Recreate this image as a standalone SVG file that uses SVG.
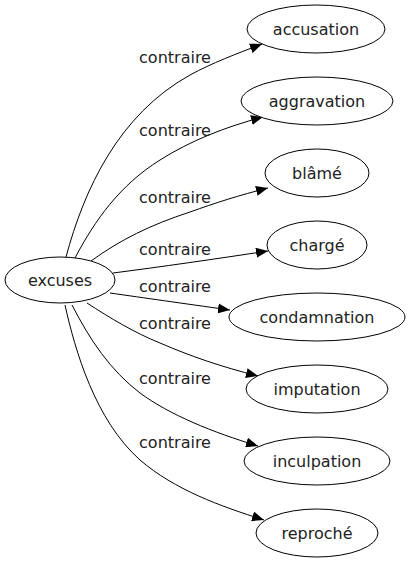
<svg xmlns="http://www.w3.org/2000/svg" width="410" height="563" viewBox="0 0 410 563">
<style>
.n ellipse{fill:#fff;stroke:#000;stroke-width:1}
text{font-family:"DejaVu Sans",sans-serif;font-size:16px;fill:#222;text-anchor:middle}
.e path{fill:none;stroke:#000;stroke-width:1;marker-end:url(#ah)}
</style>
<defs>
<marker id="ah" markerUnits="userSpaceOnUse" markerWidth="12" markerHeight="10" refX="12" refY="5" orient="auto"><path d="M0,0 L12,5 L0,10 Z" fill="#000"/></marker>
</defs>
<rect width="410" height="563" fill="#fff"/>
<g class="e" id="edges">
<path d="M66,257 C84,190 118,115 190,75 C212,63 236,54 262,44"/>
<path d="M75,258 C95,220 120,185 160,160 C190,141 225,127 263,117"/>
<path d="M91,261 C120,240 150,225 190,212 C215,203 240,195 268,188"/>
<path d="M113,273 C160,267 215,259 268,251"/>
<path d="M110,293 C145,298 180,303 230,310"/>
<path d="M87,303 C110,318 135,333 160,343 C190,356 222,367 258,376"/>
<path d="M72,305 C90,340 110,370 140,393 C170,415 212,432 258,446"/>
<path d="M65,305 C75,350 95,420 140,460 C175,490 220,506 264,520"/>
<text x="175" y="63">contraire</text>
<text x="175" y="136">contraire</text>
<text x="175" y="203">contraire</text>
<text x="175" y="255">contraire</text>
<text x="175" y="292">contraire</text>
<text x="175" y="329">contraire</text>
<text x="175" y="384">contraire</text>
<text x="175" y="448">contraire</text>
</g>
<g class="n" id="excuses"><ellipse cx="60" cy="280" rx="55" ry="23"/><text x="60" y="286">excuses</text></g>
<g class="n" id="accusation"><ellipse cx="316" cy="29" rx="69" ry="24"/><text x="316" y="35">accusation</text></g>
<g class="n" id="aggravation"><ellipse cx="317" cy="101" rx="76" ry="24"/><text x="317" y="107">aggravation</text></g>
<g class="n" id="blame"><ellipse cx="317" cy="173" rx="52" ry="24"/><text x="317" y="179">blâmé</text></g>
<g class="n" id="charge"><ellipse cx="317" cy="245" rx="50" ry="24"/><text x="317" y="251">chargé</text></g>
<g class="n" id="condamnation"><ellipse cx="317" cy="317" rx="88" ry="24"/><text x="317" y="323">condamnation</text></g>
<g class="n" id="imputation"><ellipse cx="317" cy="389" rx="71" ry="24"/><text x="317" y="395">imputation</text></g>
<g class="n" id="inculpation"><ellipse cx="317" cy="461" rx="73" ry="24"/><text x="317" y="467">inculpation</text></g>
<g class="n" id="reproche"><ellipse cx="317" cy="533" rx="61" ry="24"/><text x="317" y="539">reproché</text></g>
</svg>
